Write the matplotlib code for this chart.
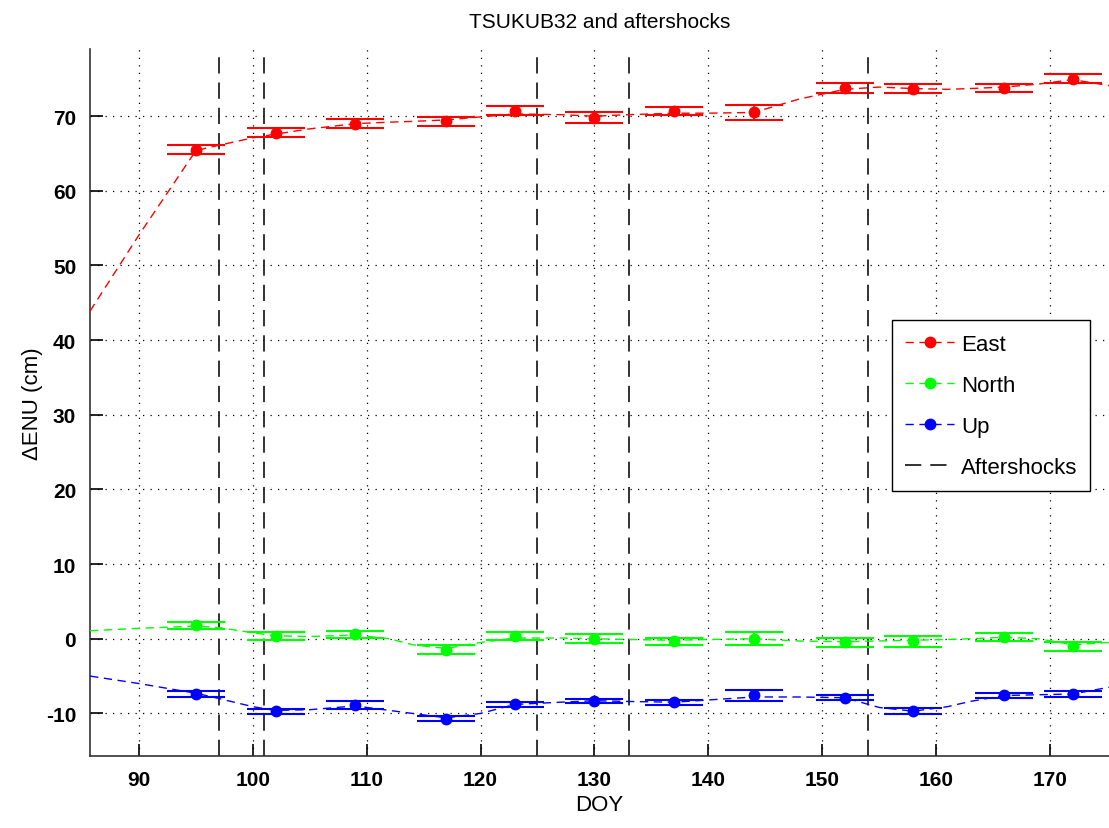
import matplotlib
matplotlib.use('Agg')
import matplotlib.pyplot as plt
from matplotlib.lines import Line2D

plt.rcParams['font.family'] = ['Liberation Sans', 'DejaVu Sans']
plt.rcParams['axes.unicode_minus'] = False

# daily solutions
doy = [95, 102, 109, 117, 123, 130, 137, 144, 152, 158, 166, 172]
east = [65.5, 67.8, 69.0, 69.3, 70.7, 69.8, 70.7, 70.5, 73.8, 73.7, 73.8, 75.0]
east_err = [0.6, 0.55, 0.65, 0.55, 0.6, 0.7, 0.5, 1.0, 0.65, 0.6, 0.55, 0.6]
north = [1.8, 0.4, 0.6, -1.5, 0.4, 0.0, -0.35, 0.0, -0.5, -0.35, 0.25, -1.0]
north_err = [0.45, 0.55, 0.5, 0.6, 0.55, 0.6, 0.5, 0.85, 0.6, 0.7, 0.5, 0.6]
up = [-7.4, -9.7, -8.9, -10.7, -8.8, -8.3, -8.5, -7.6, -7.9, -9.7, -7.6, -7.4]
up_err = [0.4, 0.35, 0.5, 0.35, 0.3, 0.25, 0.35, 0.8, 0.3, 0.4, 0.3, 0.45]

# dashed trend curves
trend_days = [85.7, 90, 95, 97, 100, 102, 105, 109, 112, 114, 117, 120, 123, 127, 130,
              133, 137, 140, 144, 148, 152, 155, 158, 161, 163, 166, 169, 172, 175.2]
east_trend = [43.9, 54.1, 65.4, 66.1, 67.1, 67.6, 68.3, 69.0, 69.2, 69.3, 69.5, 69.9, 70.3, 70.2, 70.0,
              70.2, 70.4, 70.4, 70.5, 72.3, 73.6, 73.9, 73.7, 73.6, 73.7, 73.9, 74.3, 74.9, 74.1]
north_trend = [1.07, 1.4, 1.7, 1.5, 0.8, 0.4, 0.3, 0.5, 0.0, -0.8, -1.3, -0.5, 0.1, 0.1, 0.0,
               -0.1, -0.2, -0.1, 0.0, -0.3, -0.4, -0.3, -0.2, -0.1, 0.0, 0.2, 0.0, -0.8, -0.5]
up_trend = [-5.0, -6.0, -7.3, -8.0, -9.1, -9.6, -9.5, -9.0, -9.6, -10.0, -10.6, -10.0, -8.8, -8.5, -8.3,
            -8.4, -8.5, -8.2, -7.8, -7.8, -7.9, -9.2, -9.7, -9.1, -8.4, -7.6, -7.5, -7.4, -6.5]

aftershocks = [97, 101, 125, 133, 154]

fig = plt.figure(figsize=(11.09, 8.29), dpi=100)
ax = fig.add_axes([0.0812, 0.0869, 0.9188, 0.8528])

series = [
    ('East', east, east_err, east_trend, (1, 0, 0)),
    ('North', north, north_err, north_trend, (0, 1, 0)),
    ('Up', up, up_err, up_trend, (0, 0, 1)),
]
handles = []
for name, vals, errs, trend, col in series:
    ax.plot(trend_days, trend, color=col, lw=1.0, dashes=(6, 4), zorder=3)
    ax.errorbar(doy, vals, yerr=errs, fmt='o', color=col, ms=7.5, capsize=21,
                capthick=1.5, elinewidth=1.2, zorder=4)
    handles.append(Line2D([], [], color=col, lw=1.0, dashes=(6, 4), marker='o', ms=7.5))

for d in aftershocks:
    ax.axvline(d, color='#222222', lw=1.3, dashes=(9, 5), zorder=2)
handles.append(Line2D([], [], color='#222222', lw=1.3, dashes=(9, 5)))

ax.set_xlim(85.7, 175.2)
ax.set_ylim(-15.7, 79)
ax.set_xticks(range(90, 171, 10))
ax.set_yticks(range(-10, 71, 10))
ax.grid(True, color='black', linestyle=(0, (1, 5)), linewidth=0.9)
ax.spines['top'].set_visible(False)
ax.spines['right'].set_visible(False)
for s in ('left', 'bottom'):
    ax.spines[s].set_color('#333333')
    ax.spines[s].set_linewidth(1.2)
ax.tick_params(direction='in', length=9, width=1.2, labelsize=15, pad=10)
for lab in ax.get_xticklabels() + ax.get_yticklabels():
    lab.set_fontweight('bold')

ax.set_xlabel('DOY', fontsize=16, labelpad=4)
ax.set_ylabel('ΔENU (cm)', fontsize=16, labelpad=2)
ax.set_title('TSUKUB32 and aftershocks', fontsize=15, pad=16)

leg = ax.legend(handles, ['East', 'North', 'Up', 'Aftershocks'], loc='upper left',
                bbox_to_anchor=(0.776, 0.632), fontsize=16, fancybox=False,
                edgecolor='black', framealpha=1, handlelength=2.2, labelspacing=0.9,
                borderpad=0.6, handletextpad=0.3)
leg.get_frame().set_linewidth(1.0)

fig.savefig('out.png', dpi=100)
